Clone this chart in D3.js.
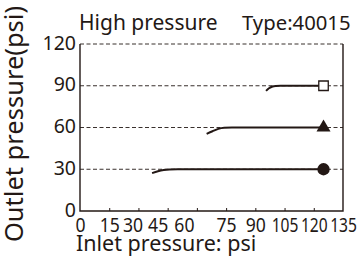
<!DOCTYPE html>
<html>
<head>
<meta charset="utf-8">
<script src="https://cdn.jsdelivr.net/npm/d3@7"></script>
<style>
  html, body { margin: 0; padding: 0; background: #fff; overflow: hidden; }
  text { font-family: "Noto Sans", "DejaVu Sans", sans-serif; fill: #231815; }
</style>
</head>
<body>
<div id="chart"></div>
<script>
// values
var xTicks = [0, 15, 30, 45, 60, 75, 90, 105, 120, 135];
var yTicks = [0, 30, 60, 90, 120];
var setLevels = [30, 60, 90];

var curve30 = [[37, 27.2], [40, 28.6], [43, 29.5], [46, 29.9], [50, 30], [125, 30]];
var curve60 = [[65, 55.4], [68, 57.3], [71, 59.0], [74, 59.8], [78, 60], [125, 60]];
var curve90 = [[95.5, 86.3], [97, 88.2], [98.5, 89.3], [100.5, 89.9], [103, 90], [125, 90]];

var series = [
  { name: "30", points: curve30, marker: "circle" },
  { name: "60", points: curve60, marker: "triangle" },
  { name: "90", points: curve90, marker: "square" }
];

var titleLeft = "High pressure";
var titleRight = "Type:40015";
var xTitle = "Inlet pressure: psi";
var yTitle = "Outlet pressure(psi)";

var width = 358, height = 256;
var ink = "#231815";

var svg = d3.select("#chart").append("svg")
    .attr("width", width)
    .attr("height", height);

var x = d3.scaleLinear().domain([0, 135]).range([80, 343]);
var y = d3.scaleLinear().domain([0, 120]).range([211, 44]);

// dashed guides (incl. top edge)
svg.append("g")
    .selectAll("line")
    .data(setLevels.concat([120]))
    .enter().append("line")
    .attr("x1", x(0))
    .attr("x2", x(135))
    .attr("y1", function(d) { return y(d); })
    .attr("y2", function(d) { return y(d); })
    .attr("stroke", ink)
    .attr("stroke-width", 0.9)
    .attr("stroke-dasharray", "4,2.5");

// frame: left, bottom, right
svg.append("path")
    .attr("d", "M" + x(0) + "," + y(120) + "V" + y(0) + "H" + x(135) + "V" + y(120))
    .attr("fill", "none")
    .attr("stroke", ink)
    .attr("stroke-width", 1.4);

// small inner ticks on the bottom axis
var xAxis = d3.axisBottom(x)
    .tickValues(xTicks)
    .tickSize(-3)
    .tickPadding(0);

// the original squeezes 30..60 to the left and narrows the labels
var nudge = { 30: -6, 45: -10, 60: -13 };

svg.append("g")
    .attr("transform", "translate(0," + y(0) + ")")
    .call(xAxis)
    .call(function(g) {
      g.select(".domain").remove();
      g.selectAll(".tick line")
        .attr("stroke", ink)
        .attr("stroke-width", 1)
        .filter(function(d) { return d == 0 || d == 135; }).remove();
      g.selectAll(".tick text")
        .attr("fill", ink)
        .attr("y", 20.5)
        .attr("dy", null)
        .style("font-size", "20px")
        .attr("transform", function(d) {
          var s = d >= 100 ? 0.78 : 0.88;
          return "translate(" + (nudge[d] || 0) + ",0) scale(" + s + ",1)";
        });
    });

// y tick labels
svg.append("g")
    .selectAll("text")
    .data(yTicks)
    .enter().append("text")
    .attr("x", 76)
    .attr("y", function(d) { return y(d) - 2; })
    .attr("text-anchor", "end")
    .attr("dominant-baseline", "central")
    .style("font-size", "19.5px")
    .text(function(d) { return d; });

// curves
var line = d3.line()
    .x(function(d) { return x(d[0]); })
    .y(function(d) { return y(d[1]); })
    .curve(d3.curveMonotoneX);

svg.append("g")
    .selectAll("path")
    .data(series)
    .enter().append("path")
    .attr("d", function(d) { return line(d.points); })
    .attr("fill", "none")
    .attr("stroke", ink)
    .attr("stroke-width", 2);

// end markers
var symbolType = { circle: d3.symbolCircle, triangle: d3.symbolTriangle, square: d3.symbolSquare };
var symbolSize = { circle: 120, triangle: 85, square: 90 };

svg.append("g")
    .selectAll("path")
    .data(series)
    .enter().append("path")
    .attr("transform", function(d) {
      var p = d.points[d.points.length - 1];
      return "translate(" + x(p[0]) + "," + y(p[1]) + ")";
    })
    .attr("d", function(d) { return d3.symbol().type(symbolType[d.marker]).size(symbolSize[d.marker])(); })
    .attr("fill", function(d) { return d.marker == "square" ? "#fff" : ink; })
    .attr("stroke", ink)
    .attr("stroke-width", function(d) { return d.marker == "square" ? 1.3 : 0; });

// titles
svg.append("text")
    .attr("x", 79)
    .attr("y", 30)
    .style("font-size", "21px")
    .text(titleLeft);

svg.append("text")
    .attr("x", 242)
    .attr("y", 30)
    .style("font-size", "20.3px")
    .text(titleRight);

svg.append("text")
    .attr("x", 76)
    .attr("y", 251)
    .style("font-size", "21.5px")
    .text(xTitle);

svg.append("text")
    .attr("transform", "translate(23,124) rotate(-90)")
    .attr("text-anchor", "middle")
    .style("font-size", "25.5px")
    .text(yTitle);
</script>
</body>
</html>
